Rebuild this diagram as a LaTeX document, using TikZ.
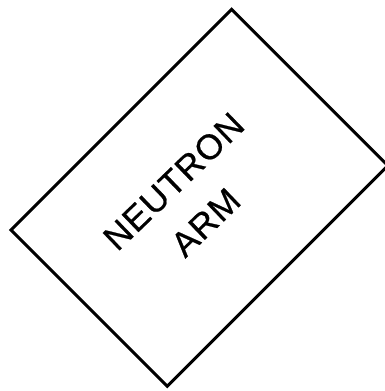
\documentclass[tikz,border=0pt]{standalone}
\usepackage{fontspec}
\setmainfont{Liberation Sans}[LetterSpace=3, FakeBold=0.6]
\usetikzlibrary{positioning}

\begin{document}
\begin{tikzpicture}[
  x=1pt, y=1pt,
  armbox/.style={rectangle, draw=black, line width=3pt, rotate=45, minimum width=312pt, minimum height=221pt, inner sep=0pt},
  armlabel/.style={rotate=44, anchor=base, inner sep=0pt, font=\fontsize{35}{40}\selectfont}
]
\useasboundingbox (0,0) rectangle (385,-391);

% Box
\node (arm) [armbox] at (199.5,-197.8) {};

% Label
\node (neutron) [armlabel] at (182,-190) {NEUTRON};
\node (armtext) [armlabel] at (214,-231) {ARM};

\end{tikzpicture}
\end{document}
